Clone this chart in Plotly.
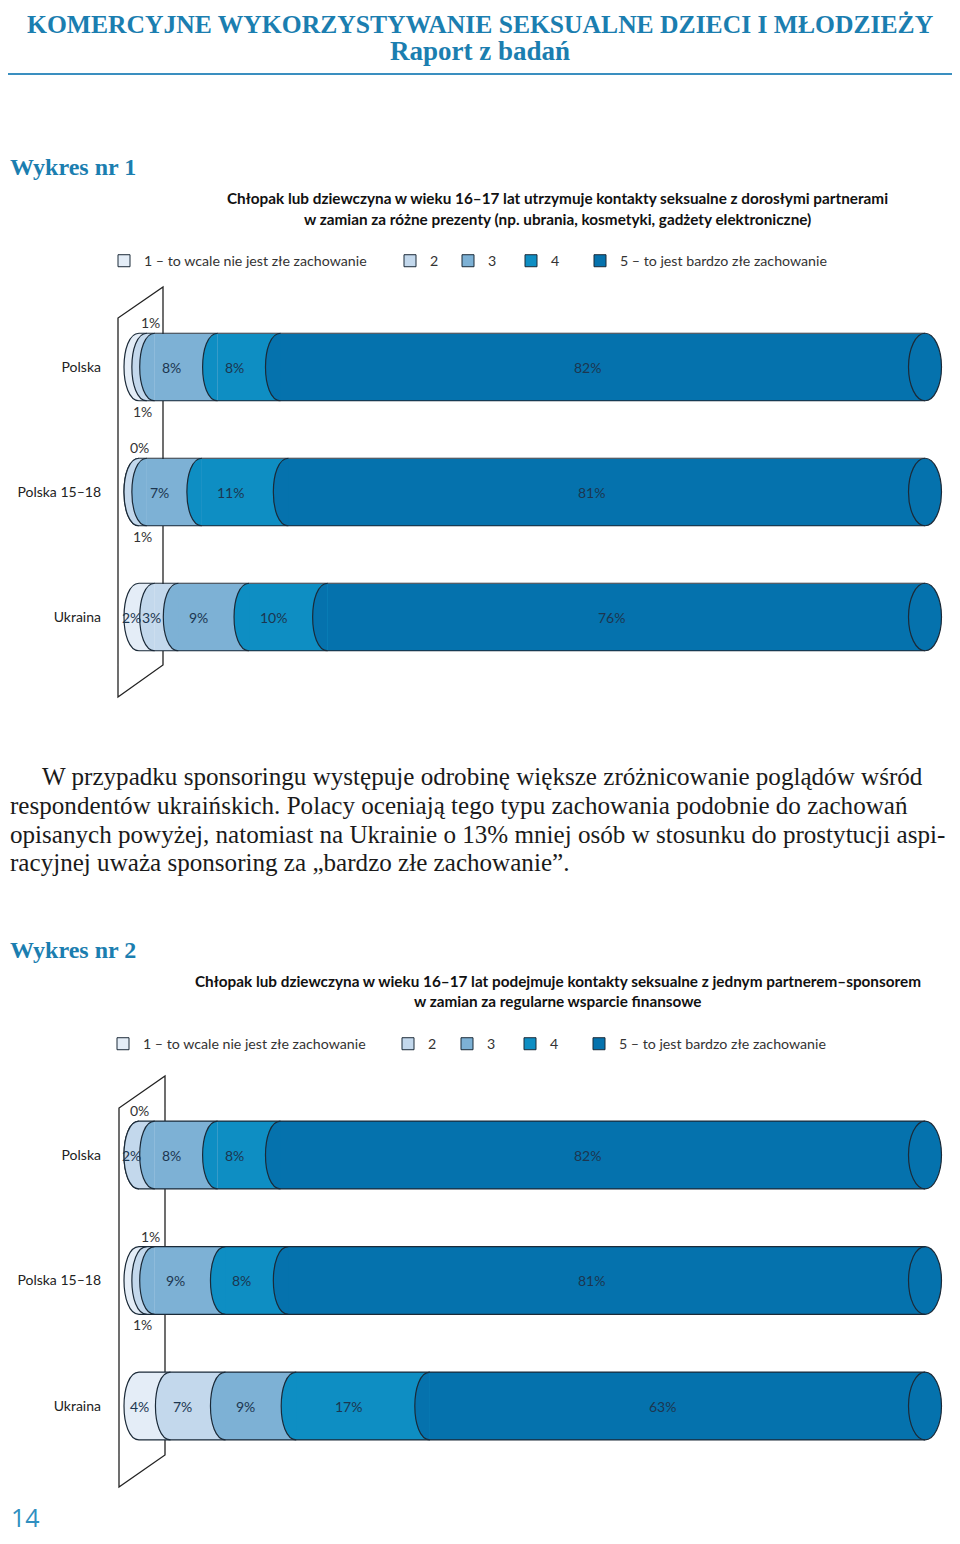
import plotly.graph_objects as go

# ---------------- data ----------------
categories = ["Polska", "Polska 15–18", "Ukraina"]
levels = ["1 – to wcale nie jest złe zachowanie", "2", "3", "4",
          "5 – to jest bardzo złe zachowanie"]

# Wykres nr 1 (percent per answer level, per category)
c1_l1 = [1, 0, 2]
c1_l2 = [1, 1, 3]
c1_l3 = [8, 7, 9]
c1_l4 = [8, 11, 10]
c1_l5 = [82, 81, 76]

# Wykres nr 2
c2_l1 = [0, 1, 4]
c2_l2 = [2, 1, 7]
c2_l3 = [8, 9, 9]
c2_l4 = [8, 8, 17]
c2_l5 = [82, 81, 63]

chart1 = [c1_l1, c1_l2, c1_l3, c1_l4, c1_l5]
chart2 = [c2_l1, c2_l2, c2_l3, c2_l4, c2_l5]

title1 = "KOMERCYJNE WYKORZYSTYWANIE SEKSUALNE DZIECI I MŁODZIEŻY"
title2 = "Raport z badań"
head1 = "Wykres nr 1"
head2 = "Wykres nr 2"
sub1 = ["Chłopak lub dziewczyna w wieku 16–17 lat utrzymuje kontakty seksualne z dorosłymi partnerami",
        "w zamian za różne prezenty (np. ubrania, kosmetyki, gadżety elektroniczne)"]
sub2 = ["Chłopak lub dziewczyna w wieku 16–17 lat podejmuje kontakty seksualne z jednym partnerem–sponsorem",
        "w zamian za regularne wsparcie finansowe"]
para = ["W przypadku sponsoringu występuje odrobinę większe zróżnicowanie poglądów wśród",
        "respondentów ukraińskich. Polacy oceniają tego typu zachowania podobnie do zachowań",
        "opisanych powyżej, natomiast na Ukrainie o 13% mniej osób w stosunku do prostytucji aspi-",
        "racyjnej uważa sponsoring za „bardzo złe zachowanie”."]
page_no = "14"

# ---------------- style / layout ----------------
OFF = 8                      # browser body margin
W, H = 960 - 2 * OFF, 1544 - 2 * OFF
colors = ["#e4edf7", "#c3d8ec", "#7db1d5", "#0e8ec3", "#0572ad"]
edge = "#1b2a38"
teal = "#1b7eb0"
label_col = "#1c3650"

# label placement for tiny segments (row, level) -> side
outside1 = {(0, 0): "below", (0, 1): "above", (1, 0): "above", (1, 1): "below"}
outside2 = {(0, 0): "above", (1, 0): "below", (1, 1): "above"}

# legend swatch centres (page px) for each level
leg_x1 = [124, 410, 468, 531, 600]
leg_x2 = [123, 408, 467, 530, 599]

X0PX, X100PX = 139, 925
scale = (X100PX - X0PX) / 100.0
XDOM_L = 106
BAR_W = 0.54
RX = 15 / scale  # cap bulge in data units


def py(p):
    return 1 - (p - OFF) / H


def pxx(p):
    return (p - OFF) / W


fig = go.Figure()
shapes = []
annots = []


def build(chart, xa, ya, xref, yref, outside, legnames):
    for k, vals in enumerate(chart):
        fig.add_trace(go.Bar(
            y=list(range(len(categories))), x=vals, orientation="h",
            marker=dict(color=colors[k], line=dict(width=0)),
            width=BAR_W, xaxis=xa, yaxis=ya, showlegend=False,
            hoverinfo="x+y"))
        # legend proxy with outline
        fig.add_trace(go.Bar(
            y=[None], x=[None], orientation="h", name=levels[k],
            marker=dict(color=colors[k], line=dict(color=edge, width=1)),
            xaxis=xa, yaxis=ya, showlegend=True, legend=legnames[k]))
    for i in range(len(categories)):
        top = i - BAR_W / 2
        bot = i + BAR_W / 2
        cum = 0.0
        total = sum(chart[k][i] for k in range(len(chart)))
        kk = 4 / 3 * RX
        for k in range(len(chart)):
            v = chart[k][i]
            c = cum
            shapes.append(dict(
                type="path", xref=xref, yref=yref, layer="above",
                path=f"M {c},{top} C {c-kk},{top} {c-kk},{bot} {c},{bot}",
                fillcolor=colors[k], line=dict(color=edge, width=1.2)))
            mid = cum + v / 2
            side = outside.get((i, k))
            if side is None:
                annots.append(dict(x=mid - RX, y=i, xref=xref, yref=yref,
                                   text=f"{v}%", showarrow=False,
                                   font=dict(family="Lato", size=14, color=label_col)))
            else:
                annots.append(dict(x=mid, y=top if side == "above" else bot,
                                   xref=xref, yref=yref, text=f"{v}%", showarrow=False,
                                   yanchor="bottom" if side == "above" else "top",
                                   font=dict(family="Lato", size=14, color="#333333")))
            cum += v
        shapes.append(dict(type="circle", xref=xref, yref=yref, layer="above",
                           x0=total - RX * 1.1, x1=total + RX * 1.1, y0=top, y1=bot,
                           fillcolor=colors[-1], line=dict(color=edge, width=1.2)))
        shapes.append(dict(type="path", xref=xref, yref=yref, layer="above",
                           path=f"M 0,{top} L {total},{top} M 0,{bot} L {total},{bot}",
                           fillcolor="rgba(0,0,0,0)", line=dict(color=edge, width=1.2)))


leg1_names = ["legend"] + [f"legend{n}" for n in range(2, 6)]
leg2_names = [f"legend{n}" for n in range(6, 11)]
build(chart1, "x", "y", "x", "y", outside1, leg1_names)
build(chart2, "x2", "y2", "x2", "y2", outside2, leg2_names)

xr = [(XDOM_L - X0PX) / scale, (960 - OFF - X0PX) / scale]
axis_x = dict(range=xr, domain=[pxx(XDOM_L), 1], showgrid=False, zeroline=False,
              showticklabels=False, showline=False, fixedrange=True)
axis_y = dict(range=[2.5, -0.5], tickvals=list(range(len(categories))),
              ticktext=categories, showgrid=False, zeroline=False, ticks="",
              showline=False, tickfont=dict(family="Lato", size=14, color="#222222"),
              ticklabelstandoff=4)


def wall(x_l, x_r, yl_top, yl_bot, yr_top, yr_bot):
    return dict(type="path", xref="paper", yref="paper", layer="below",
                path=(f"M {pxx(x_l)},{py(yl_top)} L {pxx(x_l)},{py(yl_bot)} "
                      f"L {pxx(x_r)},{py(yr_bot)} L {pxx(x_r)},{py(yr_top)} Z"),
                fillcolor="rgba(255,255,255,0)", line=dict(color="#222222", width=1.3))


shapes.insert(0, wall(118, 163, 318, 697, 287, 665))
shapes.insert(0, wall(119, 165, 1108, 1487, 1076, 1455))
shapes.append(dict(type="line", xref="paper", yref="paper", x0=pxx(8), x1=pxx(952),
                   y0=py(74), y1=py(74), line=dict(color="#3a8fc0", width=2.2)))

serif = "Liberation Serif"
annots += [
    dict(x=pxx(480), y=py(8), yanchor="top", text=f"<b>{title1}</b>",
         font=dict(family=serif, size=25.6, color=teal)),
    dict(x=pxx(480), y=py(51), text=f"<b>{title2}</b>", font=dict(family=serif, size=27, color=teal)),
    dict(x=pxx(8), y=py(167), xanchor="left", text=f"<b>{head1}</b>",
         font=dict(family=serif, size=24, color=teal)),
    dict(x=pxx(8), y=py(950), xanchor="left", text=f"<b>{head2}</b>",
         font=dict(family=serif, size=24, color=teal)),
    dict(x=pxx(9), y=py(1536), xanchor="left", yanchor="bottom", text=page_no,
         font=dict(family="Open Sans", size=25, color="#2f8fc0")),
]
for t, yy in zip(sub1, [198, 219]):
    annots.append(dict(x=pxx(557), y=py(yy), text=f"<b>{t}</b>",
                       font=dict(family="Lato", size=15.3, color="#111111")))
for t, yy in zip(sub2, [981, 1001]):
    annots.append(dict(x=pxx(558), y=py(yy), text=f"<b>{t}</b>",
                       font=dict(family="Lato", size=15.3, color="#111111")))
for j, (t, yy) in enumerate(zip(para, [776, 805, 834, 863])):
    annots.append(dict(x=pxx(40 if j == 0 else 8), y=py(yy), xanchor="left", text=t,
                       font=dict(family=serif, size=25.1, color="#1a1a1a")))
for a in annots:
    a.setdefault("xref", "paper")
    a.setdefault("yref", "paper")
    a.setdefault("showarrow", False)
    a.setdefault("yanchor", "middle")

legend_common = dict(orientation="h", xanchor="left", yanchor="middle",
                     font=dict(family="Lato", size=14.2, color="#333333"),
                     bgcolor="rgba(0,0,0,0)", traceorder="normal")

legends = {}
for name, cx in zip(leg1_names, leg_x1):
    legends[name] = dict(legend_common, x=pxx(cx - 20), y=py(261))
for name, cx in zip(leg2_names, leg_x2):
    legends[name] = dict(legend_common, x=pxx(cx - 20), y=py(1044))

fig.update_layout(
    width=W, height=H, margin=dict(l=0, r=0, t=0, b=0),
    paper_bgcolor="white", plot_bgcolor="rgba(0,0,0,0)",
    barmode="stack", bargap=0,
    xaxis=dict(axis_x, anchor="y"),
    yaxis=dict(axis_y, anchor="x", domain=[py(679.5), py(304.5)]),
    xaxis2=dict(axis_x, anchor="y2"),
    yaxis2=dict(axis_y, anchor="x2", domain=[py(1468.75), py(1092.25)]),
    shapes=shapes, annotations=annots, showlegend=True,
    **legends,
)

fig.write_html("out.html")
